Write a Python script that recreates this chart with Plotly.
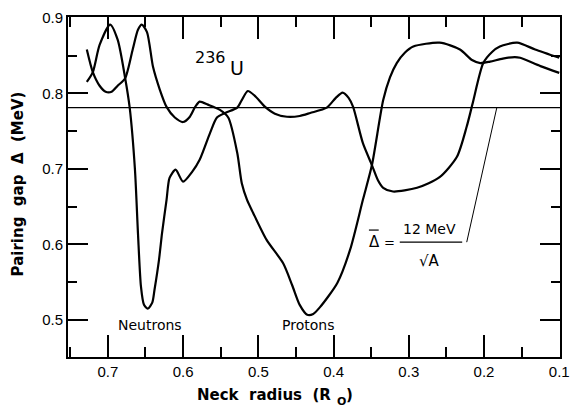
import plotly.graph_objects as go

# Neck radius (R0) and pairing gap (MeV)
neutron_x = [0.728, 0.720, 0.711, 0.697, 0.687, 0.677, 0.671, 0.664, 0.660, 0.656,
             0.652, 0.647, 0.641, 0.638, 0.632, 0.628, 0.622, 0.618, 0.610, 0.600,
             0.588, 0.578, 0.564, 0.555, 0.544, 0.528, 0.522, 0.514, 0.505, 0.491,
             0.478, 0.462, 0.445, 0.431, 0.409, 0.397, 0.388, 0.380, 0.374, 0.361,
             0.349, 0.341, 0.334, 0.321, 0.289, 0.259, 0.236, 0.223, 0.215, 0.201,
             0.189, 0.179, 0.156, 0.132, 0.100]
neutron_y = [0.815, 0.828, 0.864, 0.891, 0.871, 0.820, 0.781, 0.699, 0.615, 0.544,
             0.520, 0.515, 0.523, 0.540, 0.580, 0.615, 0.659, 0.688, 0.699, 0.683,
             0.696, 0.712, 0.748, 0.768, 0.774, 0.781, 0.791, 0.803, 0.797, 0.782,
             0.773, 0.769, 0.770, 0.774, 0.781, 0.794, 0.801, 0.794, 0.782, 0.734,
             0.705, 0.685, 0.675, 0.670, 0.675, 0.689, 0.716, 0.756, 0.787, 0.840,
             0.855, 0.862, 0.867, 0.858, 0.847]

proton_x = [0.728, 0.720, 0.711, 0.703, 0.695, 0.687, 0.677, 0.667, 0.660, 0.655,
            0.648, 0.640, 0.631, 0.622, 0.611, 0.600, 0.591, 0.584, 0.578, 0.567,
            0.551, 0.540, 0.528, 0.522, 0.515, 0.507, 0.489, 0.467, 0.455, 0.445,
            0.435, 0.427, 0.418, 0.395, 0.378, 0.361, 0.349, 0.334, 0.325, 0.316,
            0.305, 0.294, 0.259, 0.232, 0.216, 0.205, 0.192, 0.175, 0.159, 0.152,
            0.125, 0.100]
proton_y = [0.858, 0.828, 0.810, 0.802, 0.802, 0.810, 0.820, 0.858, 0.884, 0.891,
            0.881, 0.835, 0.805, 0.782, 0.768, 0.762, 0.769, 0.782, 0.789, 0.785,
            0.778, 0.768, 0.721, 0.681, 0.659, 0.642, 0.606, 0.575, 0.546, 0.520,
            0.507, 0.508, 0.517, 0.549, 0.593, 0.659, 0.705, 0.791, 0.821, 0.840,
            0.854, 0.862, 0.867, 0.858, 0.844, 0.840, 0.842, 0.846, 0.848, 0.847,
            0.836, 0.827]

DELTA_BAR = 0.781  # 12 MeV / sqrt(A), A = 236

x_ticks = [0.7, 0.6, 0.5, 0.4, 0.3, 0.2, 0.1]
y_ticks = [0.5, 0.6, 0.7, 0.8, 0.9]
X_RANGE = [0.753, 0.099]
Y_RANGE = [0.451, 0.901]

FONT = "Liberation Sans"
LBL = "DejaVu Sans"

fig = go.Figure()
fig.add_trace(go.Scatter(x=neutron_x, y=neutron_y, mode="lines", name="Neutrons",
                         showlegend=False,
                         line=dict(color="black", width=2.2, shape="spline", smoothing=0.7)))
fig.add_trace(go.Scatter(x=proton_x, y=proton_y, mode="lines", name="Protons",
                         showlegend=False,
                         line=dict(color="black", width=2.2, shape="spline", smoothing=0.7)))


def deco(xs, ys, width):
    fig.add_trace(go.Scatter(x=xs, y=ys, mode="lines", showlegend=False, hoverinfo="skip",
                             line=dict(color="black", width=width)))


# mean pairing gap line across the plot, the formula's leader, fraction bar and Delta bar
deco(X_RANGE, [DELTA_BAR, DELTA_BAR], 1.2)
deco([0.183, 0.223], [DELTA_BAR, 0.603], 1)
deco([0.312, 0.229], [0.603, 0.603], 1.3)
deco([0.353, 0.340], [0.619, 0.619], 1.2)


def txt(x, y, text, size, xref="x", yref="y", weight="normal", angle=0):
    return dict(x=x, y=y, xref=xref, yref=yref, text=text, showarrow=False,
                xanchor="center", yanchor="middle", textangle=angle,
                font=dict(family=LBL, size=size, color="black", weight=weight))


ann = [
    txt(0.644, 0.493, "Neutrons", 14),
    txt(0.434, 0.493, "Protons", 14),
    txt(0.564, 0.848, "236", 16),
    txt(0.528, 0.833, "U", 19),
    txt(0.346, 0.603, "\u0394", 15),
    txt(0.326, 0.603, "=", 13),
    txt(0.272, 0.620, "12 MeV", 14),
    txt(0.272, 0.578, "\u221aA", 15),
    txt(0.398, -0.112, "Neck  radius  (R", 15, "paper", "paper", "bold"),
    txt(0.556, -0.130, "O", 11, "paper", "paper", "bold"),
    txt(0.572, -0.112, ")", 15, "paper", "paper", "bold"),
    txt(-0.102, 0.51, "Pairing  gap  \u0394  (MeV)", 15, "paper", "paper", "bold", -90),
]

axis_common = dict(showline=True, linewidth=2, linecolor="black", mirror="ticks",
                   zeroline=False, ticks="inside", tickwidth=1.5,
                   tickcolor="black", automargin=False, tickformat=".1f",
                   tickfont=dict(family=FONT, size=15, color="black"))

fig.update_layout(
    width=570, height=411,
    margin=dict(l=68, r=10, t=17, b=54),
    paper_bgcolor="white", plot_bgcolor="white",
    annotations=ann,
    xaxis=dict(range=X_RANGE, tickmode="array", tickvals=x_ticks,
               ticklen=22, showgrid=False,
               minor=dict(tick0=0.05, dtick=0.05, ticks="inside",
                          ticklen=10, tickwidth=1.5, tickcolor="black"),
               **axis_common),
    yaxis=dict(range=Y_RANGE, tickmode="array", tickvals=y_ticks,
               ticklen=20, showgrid=False,
               minor=dict(tick0=0.05, dtick=0.05, ticks="inside",
                          ticklen=9, tickwidth=1.5, tickcolor="black"),
               **axis_common),
)

fig.write_html("out.html", config={"displayModeBar": False},
               post_script="document.body.style.margin='0';")
